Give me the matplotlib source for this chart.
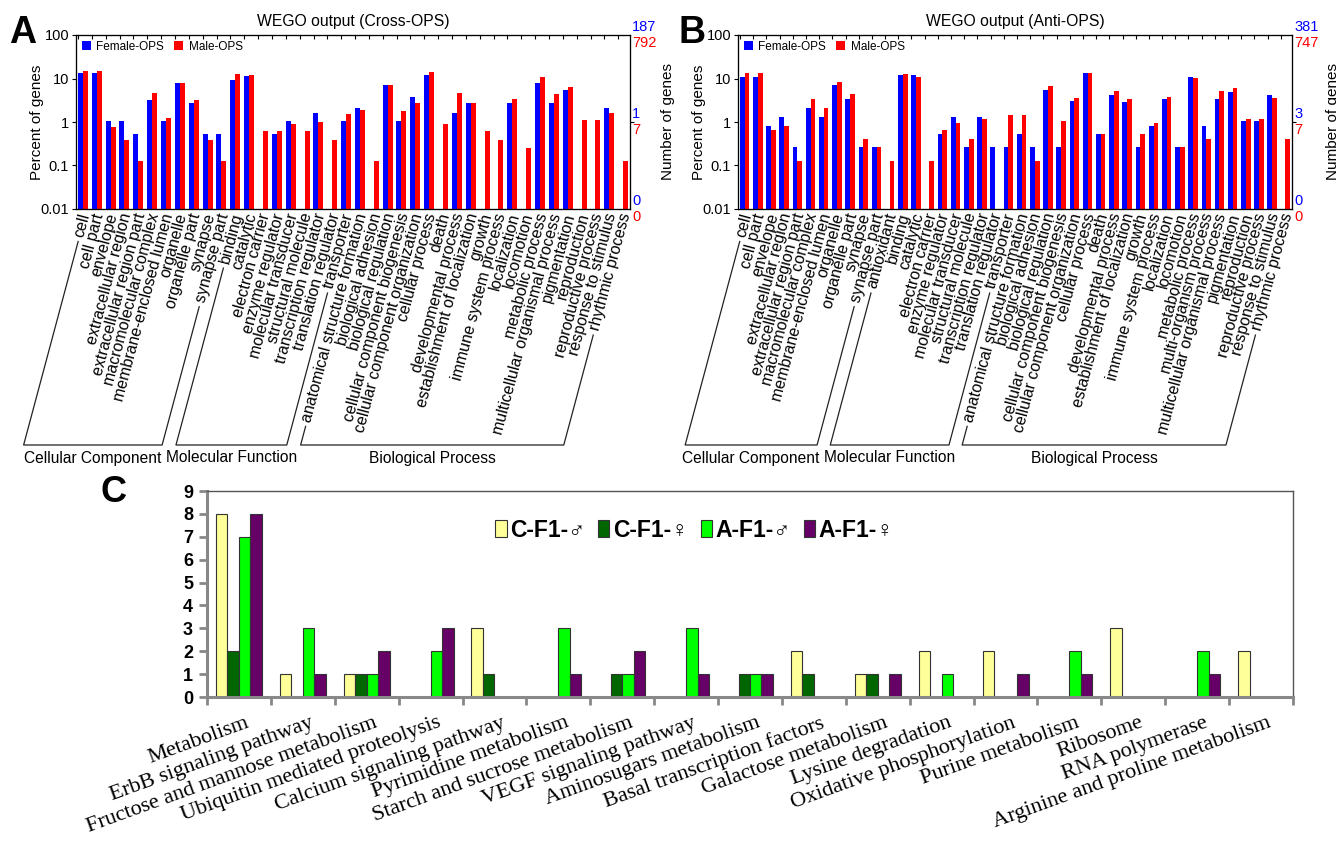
import numpy as np
import matplotlib
matplotlib.use('Agg')
import matplotlib.pyplot as plt
import matplotlib.ticker as mticker
import matplotlib.transforms as mtransforms
from matplotlib.lines import Line2D
from matplotlib.patches import Patch

plt.rcParams['font.family'] = ['Liberation Sans', 'DejaVu Sans']

# ---------------- data: panel A (Cross-OPS), percent of genes ----------------
cats_a = ['cell', 'cell part', 'envelope', 'extracellular region', 'extracellular region part',
          'macromolecular complex', 'membrane-enclosed lumen', 'organelle', 'organelle part',
          'synapse', 'synapse part',
          'binding', 'catalytic', 'electron carrier', 'enzyme regulator', 'molecular transducer',
          'structural molecule', 'transcription regulator', 'translation regulator', 'transporter',
          'anatomical structure formation', 'biological adhesion', 'biological regulation',
          'cellular component biogenesis', 'cellular component organization', 'cellular process',
          'death', 'developmental process', 'establishment of localization', 'growth',
          'immune system process', 'localization', 'locomotion', 'metabolic process',
          'multicellular organismal process', 'pigmentation', 'reproduction',
          'reproductive process', 'response to stimulus', 'rhythmic process']
female_a = [13.4, 13.4, 1.07, 1.07, 0.53, 3.2, 1.07, 8.0, 2.67, 0.53, 0.53,
            9.1, 11.2, 0, 0.53, 1.07, 0, 1.6, 0, 1.07,
            2.14, 0, 7.0, 1.07, 3.74, 11.8, 0, 1.6, 2.67, 0,
            0, 2.67, 0, 8.0, 2.67, 5.35, 0, 0, 2.14, 0]
male_a = [14.8, 14.8, 0.76, 0.38, 0.13, 4.7, 1.26, 7.95, 3.28, 0.38, 0.13,
          12.6, 12.1, 0.63, 0.63, 0.88, 0.63, 1.01, 0.38, 1.51,
          1.89, 0.13, 6.94, 1.77, 2.78, 14.1, 0.88, 4.67, 2.78, 0.63,
          0.38, 3.41, 0.25, 11.0, 4.42, 6.3, 1.14, 1.14, 1.64, 0.13]
groups_a = [('Cellular Component', 0, 10), ('Molecular Function', 11, 19),
            ('Biological Process', 20, 39)]

# ---------------- data: panel B (Anti-OPS) ----------------
cats_b = ['cell', 'cell part', 'envelope', 'extracellular region', 'extracellular region part',
          'macromolecular complex', 'membrane-enclosed lumen', 'organelle', 'organelle part',
          'synapse', 'synapse part',
          'antioxidant', 'binding', 'catalytic', 'electron carrier', 'enzyme regulator',
          'molecular transducer', 'structural molecule', 'transcription regulator',
          'translation regulator', 'transporter',
          'anatomical structure formation', 'biological adhesion', 'biological regulation',
          'cellular component biogenesis', 'cellular component organization', 'cellular process',
          'death', 'developmental process', 'establishment of localization', 'growth',
          'immune system process', 'localization', 'locomotion', 'metabolic process',
          'multi-organism process', 'multicellular organismal process', 'pigmentation',
          'reproduction', 'reproductive process', 'response to stimulus', 'rhythmic process']
female_b = [11.0, 11.0, 0.79, 1.31, 0.26, 2.1, 1.31, 7.1, 3.4, 0.26, 0.26,
            0, 11.8, 12.1, 0, 0.52, 1.31, 0.26, 1.31, 0.26, 0.26,
            0.52, 0.26, 5.5, 0.26, 3.1, 13.4, 0.52, 4.2, 2.9, 0.26,
            0.79, 3.4, 0.26, 11.0, 0.79, 3.4, 5.0, 1.05, 1.05, 4.2, 0]
male_b = [13.1, 13.1, 0.67, 0.8, 0.13, 3.4, 2.1, 8.3, 4.3, 0.4, 0.27,
          0.13, 12.5, 10.6, 0.13, 0.67, 0.94, 0.4, 1.2, 0, 1.47,
          1.47, 0.13, 6.8, 1.07, 3.5, 13.4, 0.54, 5.2, 3.4, 0.54,
          0.94, 3.75, 0.27, 10.4, 0.4, 5.2, 6.0, 1.2, 1.2, 3.6, 0.4]
groups_b = [('Cellular Component', 0, 10), ('Molecular Function', 11, 20),
            ('Biological Process', 21, 41)]

# ---------------- data: panel C (KEGG pathways, number of genes) ----------------
kegg = ['Metabolism', 'ErbB signaling pathway', 'Fructose and mannose metabolism',
        'Ubiquitin mediated proteolysis', 'Calcium signaling pathway', 'Pyrimidine metabolism',
        'Starch and sucrose metabolism', 'VEGF signaling pathway', 'Aminosugars metabolism',
        'Basal transcription factors', 'Galactose metabolism', 'Lysine degradation',
        'Oxidative phosphorylation', 'Purine metabolism', 'Ribosome', 'RNA polymerase',
        'Arginine and proline metabolism']
c_male = [8, 1, 1, 0, 3, 0, 0, 0, 0, 2, 1, 2, 2, 0, 3, 0, 2]
c_female = [2, 0, 1, 0, 1, 0, 1, 0, 1, 1, 1, 0, 0, 0, 0, 0, 0]
a_male = [7, 3, 1, 2, 0, 3, 1, 3, 1, 0, 0, 1, 0, 2, 0, 2, 0]
a_female = [8, 1, 2, 3, 0, 1, 2, 1, 1, 0, 1, 0, 1, 1, 0, 1, 0]
series_c = ['C-F1-\u2642', 'C-F1-\u2640', 'A-F1-\u2642', 'A-F1-\u2640']
colors_c = ['#ffff99', '#006600', '#00ff00', '#660066']

W, H = 1336, 841
fig = plt.figure(figsize=(W / 100, H / 100), dpi=100)


def px_axes(l, t, r, b):
    return fig.add_axes([l / W, 1 - b / H, (r - l) / W, (b - t) / H])


ROT = 75
BASE_Y = H - 445      # bracket baseline (display px)
GROUP_Y = H - 458     # group names


def wego(ax, cats, fem, male, title, side, num_x):
    x = np.arange(len(cats))
    fem = np.asarray(fem, float)
    male = np.asarray(male, float)
    w = 0.36
    ax.set_yscale('log')
    mf, mm = fem > 0, male > 0
    ax.bar(x[mf] - w / 2, fem[mf] - 0.01, w, bottom=0.01, color='#0000ff', label='Female-OPS')
    ax.bar(x[mm] + w / 2, male[mm] - 0.01, w, bottom=0.01, color='#ff0000', label='Male-OPS')
    ax.set_ylim(0.01, 100)
    ax.set_xlim(-0.5, len(cats) - 0.5)
    ax.set_yticks([0.01, 0.1, 1, 10, 100])
    ax.set_yticklabels(['0.01', '0.1', '1', '10', '100'], fontsize=10.5)
    ax.yaxis.set_minor_locator(mticker.NullLocator())
    ax.tick_params(axis='y', direction='out', length=3, width=0.8, pad=2)
    ax.set_xticks(x - 0.35)
    ax.tick_params(axis='x', bottom=False, top=True, direction='in', length=3,
                   width=0.8, labelbottom=False)
    for s in ax.spines.values():
        s.set_linewidth(0.9)
        s.set_color('#222222')

    ax2 = ax.twinx()
    ax2.set_yscale('log')
    ax2.set_ylim(0.01, 100)
    ax2.set_yticks([1])
    ax2.set_yticklabels([])
    ax2.yaxis.set_minor_locator(mticker.NullLocator())
    ax2.tick_params(axis='y', direction='out', length=3, width=0.8)

    for yv, (nb, nr) in zip([100, 1, 0.01], side):
        ax.annotate(nb, xy=(1, yv), xycoords=('axes fraction', 'data'), xytext=(1.5, 5.8),
                    textcoords='offset points', color='#0000ff', fontsize=10.5,
                    ha='left', va='center', annotation_clip=False)
        ax.annotate(nr, xy=(1, yv), xycoords=('axes fraction', 'data'), xytext=(1.5, -5.8),
                    textcoords='offset points', color='#ff0000', fontsize=10.5,
                    ha='left', va='center', annotation_clip=False)

    ax.text(0.5, 1.075, title, transform=ax.transAxes, ha='center', va='center', fontsize=11.3)
    ax.text(-0.0704, 0.5, 'Percent of genes', transform=ax.transAxes, rotation=90,
            ha='center', va='center', fontsize=11)
    ax.text(num_x, 0.5, 'Number of genes', transform=ax.transAxes, rotation=90,
            ha='center', va='center', fontsize=11)

    ax.legend(loc='upper left', ncol=2, frameon=False, fontsize=8.5, handlelength=0.75,
              handleheight=0.75, handletextpad=0.45, columnspacing=0.9,
              borderaxespad=0.2, borderpad=0.3)

    trans = mtransforms.blended_transform_factory(ax.transData, ax.transAxes)
    texts = []
    for i, c in enumerate(cats):
        t = ax.text(i + 0.2, -0.025, c, transform=trans, rotation=ROT, rotation_mode='anchor',
                    ha='right', va='center', fontsize=11.5)
        texts.append(t)
    return texts


def brackets(texts, groups, renderer):
    th = np.radians(ROT)
    d = np.array([np.cos(th), np.sin(th)])
    inv = fig.transFigure.inverted()

    def foot(t):
        w, h, dsc = renderer.get_text_width_height_descent(t.get_text(), t.get_fontproperties(),
                                                           ismath=False)
        anchor = np.array(t.get_transform().transform(t.get_position()))
        start = anchor - (w + 5) * d
        s = (start[1] - BASE_Y) / d[1]
        return start, start - s * d

    for name, i0, i1 in groups:
        s0, e0 = foot(texts[i0])
        s1, e1 = foot(texts[i1])
        pts = inv.transform(np.array([s0, e0, e1, s1]))
        fig.add_artist(Line2D(pts[:, 0], pts[:, 1], transform=fig.transFigure,
                              color='#222222', lw=0.9))
        cx, cy = inv.transform(((e0[0] + e1[0]) / 2, GROUP_Y))
        fig.text(cx, cy, name, ha='center', va='center', fontsize=11.2)


ax_a = px_axes(76, 35, 630, 209)
texts_a = wego(ax_a, cats_a, female_a, male_a, 'WEGO output (Cross-OPS)',
               [('187', '792'), ('1', '7'), ('0', '0')], 1.0686)
ax_b = px_axes(738, 35, 1292, 209)
texts_b = wego(ax_b, cats_b, female_b, male_b, 'WEGO output (Anti-OPS)',
               [('381', '747'), ('3', '7'), ('0', '0')], 1.074)

# ---------------- panel C ----------------
axc = px_axes(207, 491, 1293, 697)
xc = np.arange(len(kegg))
bw = 0.18
for k, (vals, col, lab) in enumerate(zip([c_male, c_female, a_male, a_female], colors_c, series_c)):
    v = np.asarray(vals, float)
    m = v > 0
    axc.bar(xc[m] + (k - 1.5) * bw, v[m], bw, color=col, edgecolor='#333333', linewidth=0.8)
axc.set_xlim(-0.5, len(kegg) - 0.5)
axc.set_ylim(0, 9)
axc.set_yticks(range(10))
axc.set_yticklabels([str(i) for i in range(10)], fontsize=13, fontweight='bold')
axc.set_xticks(np.arange(-0.5, len(kegg)))
axc.tick_params(axis='x', direction='out', length=6, width=2, color='#888888', labelbottom=False)
axc.tick_params(axis='y', direction='out', length=6, width=2, color='#888888', pad=4)
for s in ['left', 'bottom']:
    axc.spines[s].set_color('#888888')
    axc.spines[s].set_linewidth(2.2)
for s in ['top', 'right']:
    axc.spines[s].set_color('#555555')
    axc.spines[s].set_linewidth(1.0)
transc = mtransforms.blended_transform_factory(axc.transData, axc.transAxes)
for i, c in enumerate(kegg):
    axc.text(i + 0.1, -0.08, c, transform=transc, rotation=20, rotation_mode='anchor',
             ha='right', va='top', fontsize=16, family=['Liberation Serif', 'DejaVu Serif'])
handles = [Patch(facecolor=c, edgecolor='#333333', linewidth=0.8) for c in colors_c]
axc.legend(handles, series_c, loc='center', bbox_to_anchor=(0.449, 0.81), ncol=4,
           frameon=False, prop={'size': 16.5, 'weight': 'bold'}, handlelength=0.5,
           handleheight=0.75, handletextpad=0.15, columnspacing=0.55)

# panel letters
fig.text(23 / W, 1 - 33 / H, 'A', fontsize=27, fontweight='bold', ha='center', va='center')
fig.text(692 / W, 1 - 33 / H, 'B', fontsize=27, fontweight='bold', ha='center', va='center')
fig.text(113 / W, 1 - 492 / H, 'C', fontsize=26, fontweight='bold', ha='center', va='center')

fig.canvas.draw()
renderer = fig.canvas.get_renderer()
brackets(texts_a, groups_a, renderer)
brackets(texts_b, groups_b, renderer)

fig.savefig('out.png', dpi=100)
